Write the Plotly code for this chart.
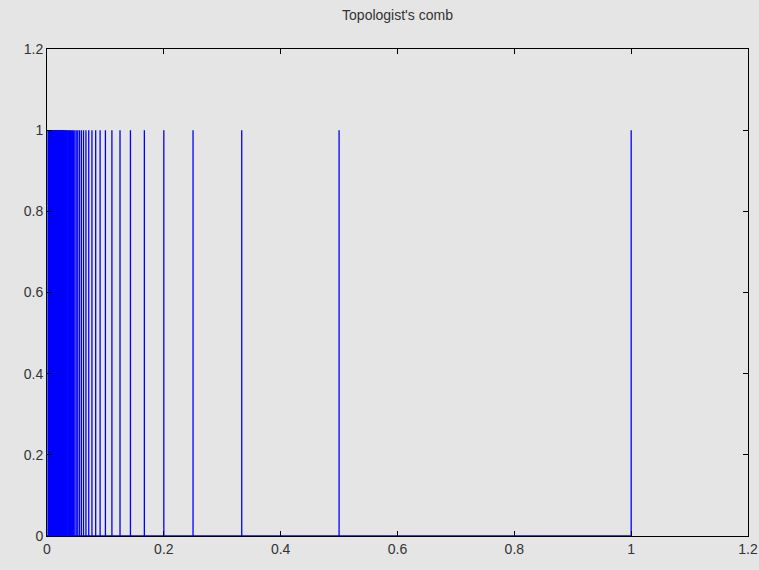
import plotly.graph_objects as go

# Comb teeth: x = 1/n for n in the listed denominators, each tooth spans y 0..1
tooth_denominators = list(range(1, 301))
tooth_bottom = 0.0
tooth_top = 1.0
x_ticks = [0, 0.2, 0.4, 0.6, 0.8, 1, 1.2]
y_ticks = [0, 0.2, 0.4, 0.6, 0.8, 1, 1.2]
tick_text = ["0", "0.2", "0.4", "0.6", "0.8", "1", "1.2"]

xs, ys = [], []
for n in tooth_denominators:
    x = 1.0 / n
    xs += [x, x, None]
    ys += [tooth_bottom, tooth_top, None]
# spine and base of the comb
xs += [0, 0, None, 0, 1, None]
ys += [tooth_bottom, tooth_top, None, tooth_bottom, tooth_bottom, None]

fig = go.Figure()
fig.add_trace(go.Scatter(x=xs, y=ys, mode="lines",
                         line=dict(color="#0000ff", width=1.3),
                         hoverinfo="skip", showlegend=False))

axis_common = dict(showgrid=False, zeroline=False, showline=True, linecolor="black",
                   linewidth=1, mirror="ticks", ticks="inside", ticklen=5,
                   tickcolor="black", range=[0, 1.2], automargin=False,
                   tickfont=dict(family="Liberation Sans", size=14, color="#333"))
fig.update_layout(
    width=759, height=570,
    paper_bgcolor="#e5e5e5", plot_bgcolor="#e5e5e5",
    margin=dict(l=47, r=11, t=49, b=34),
    title=dict(text="Topologist's comb", x=0.5, xref="paper", y=1 - 15 / 570, yanchor="middle",
               font=dict(family="Liberation Sans", size=14, color="#333")),
    xaxis=dict(tickvals=x_ticks, ticktext=tick_text, **axis_common),
    yaxis=dict(tickvals=y_ticks, ticktext=tick_text, **axis_common),
)
fig.write_html("out.html", config={"displayModeBar": False},
               post_script="document.body.style.margin='0';document.body.style.background='#e5e5e5';")
